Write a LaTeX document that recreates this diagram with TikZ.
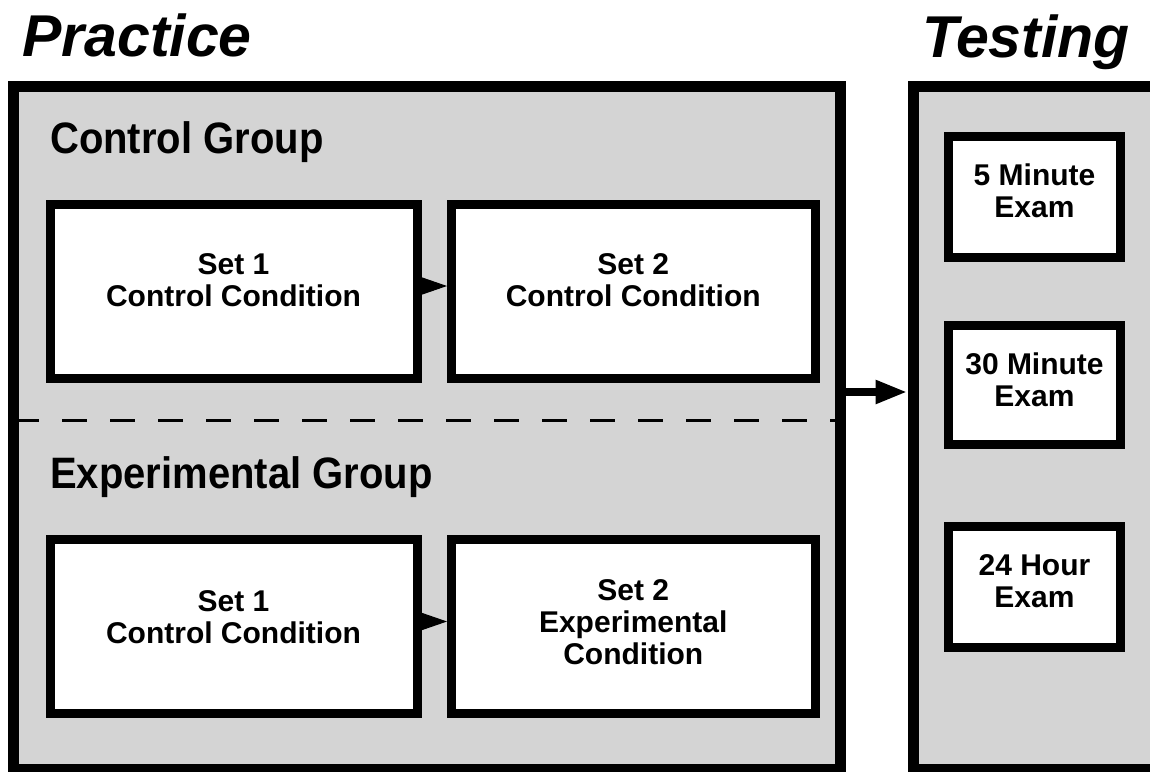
\documentclass[tikz,border=0pt]{standalone}
\usepackage{fontspec}
\usepackage{graphicx}
\setmainfont{Liberation Sans}
\usetikzlibrary{arrows.meta}
\definecolor{stipple}{gray}{0.83}
\begin{document}
\begin{tikzpicture}[x=1pt,y=-1pt,
  outerbox/.style={draw=black, fill=stipple, line width=11pt, rectangle, inner sep=0pt},
  setbox/.style={draw=black, fill=white, line width=9pt, rectangle, inner sep=0pt},
  lbl/.style={font=\fontsize{30}{32}\selectfont\bfseries, align=center, inner sep=0pt},
  head/.style={font=\fontsize{40}{44}\selectfont\bfseries, anchor=base west, inner sep=0pt},
  bigtitle/.style={font=\fontsize{59}{64}\selectfont\bfseries\itshape, anchor=base west, inner sep=0pt},
  smallarrow/.style={line width=1pt, -{Triangle[length=25pt,width=17pt]}},
  bigarrow/.style={line width=8pt, -{Triangle[length=32pt,width=22pt]}},
  divider/.style={line width=3pt, dash pattern=on 25pt off 23pt, dash phase=42pt}
]
\useasboundingbox (0,0) rectangle (1150,771);
\clip (0,0) rectangle (1150,771);

% titles
\node[bigtitle] (ptitle) at (22,56) {Practice};
\node[bigtitle] (ttitle) at (922,57) {Testing};

% outer panels
\node[outerbox, minimum width=827pt, minimum height=683pt] (practice) at (427,428) {};
\node[outerbox, minimum width=252pt, minimum height=683pt] (testing) at (1039,428) {};

% divider
\coordinate (dy) at (0,420);
\draw[divider] (practice.west |- dy) -- (practice.east |- dy);

% group headings
\node[head] (cg) at (50,153) {\scalebox{1}[1.1]{Control Group}};
\node[head] (eg) at (50,488) {\scalebox{1}[1.1]{Experimental Group}};

% set boxes
\node[setbox, minimum width=367pt, minimum height=174pt] (c1) at (233.5,291.5) {};
\node[setbox, minimum width=363.5pt, minimum height=174pt] (c2) at (633.25,291.5) {};
\node[setbox, minimum width=367pt, minimum height=174pt] (e1) at (233.5,626.5) {};
\node[setbox, minimum width=363.5pt, minimum height=174pt] (e2) at (633.25,626.5) {};

\node[lbl] (c1t) at ([yshift=11pt]c1.center) {Set 1\\Control Condition};
\node[lbl] (c2t) at ([yshift=11pt]c2.center) {Set 2\\Control Condition};
\node[lbl] (e1t) at ([yshift=9pt]e1.center) {Set 1\\Control Condition};
\node[lbl] (e2t) at ([yshift=4pt]e2.center) {Set 2\\Experimental\\Condition};

% exam boxes
\node[setbox, minimum width=172pt, minimum height=121pt] (x5) at (1034.5,197) {};
\node[setbox, minimum width=172pt, minimum height=119pt] (x30) at (1034.5,385) {};
\node[setbox, minimum width=172pt, minimum height=121pt] (x24) at (1034.5,587) {};

\node[lbl] (x5t) at ([yshift=6pt]x5.center) {5 Minute\\Exam};
\node[lbl] (x30t) at ([yshift=5pt]x30.center) {30 Minute\\Exam};
\node[lbl] (x24t) at ([yshift=6pt]x24.center) {24 Hour\\Exam};

% arrows
\draw[smallarrow] ([yshift=5.5pt]c1.east) -- ([yshift=5.5pt]c2.west);
\draw[smallarrow] ([yshift=5pt]e1.east) -- ([yshift=5pt]e2.west);
\coordinate (ay) at (0,392);
\draw[bigarrow] (practice.east |- ay) -- (testing.west |- ay);
\end{tikzpicture}
\end{document}
